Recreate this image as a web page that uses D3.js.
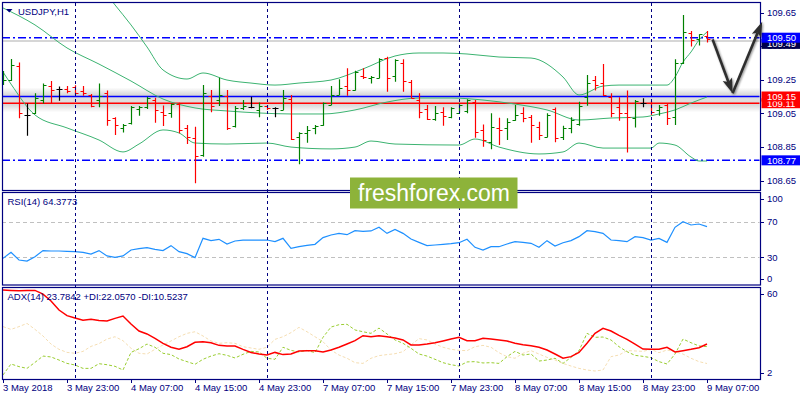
<!DOCTYPE html>
<html>
<head>
<meta charset="utf-8">
<script src="https://cdn.jsdelivr.net/npm/d3@7"></script>
<style>
  body { margin: 0; background: #fff; }
  svg { display: block; }
  text { font-family: "Liberation Sans", Arial, sans-serif; }
</style>
</head>
<body>
<svg id="chart"></svg>
<script>
// ---- data ----
const timeLabels = ['3 May 2018', '3 May 23:00', '4 May 07:00', '4 May 15:00', '4 May 23:00',
    '7 May 07:00', '7 May 15:00', '7 May 23:00', '8 May 07:00', '8 May 15:00', '8 May 23:00', '9 May 07:00'];
const daySeparators = [9, 33, 57, 81];   // bar index of first bar of a new day

const opens = [109.228,109.248,109.330,109.040,109.050,109.129,109.213,109.195,109.195,109.205,
    109.185,109.157,109.129,109.169,109.020,108.961,108.994,109.074,109.086,109.129,
    109.060,109.050,109.105,108.961,108.901,108.802,109.155,109.129,109.155,108.974,
    109.084,109.086,109.070,109.094,109.080,109.070,109.133,108.911,108.935,108.961,
    108.980,109.099,109.159,109.213,109.189,109.272,109.258,109.262,109.377,109.272,
    109.351,109.238,109.129,109.074,109.014,109.060,109.026,109.054,109.066,109.119,
    108.951,108.881,108.961,108.961,109.010,109.054,109.026,108.970,108.911,109.074,
    108.911,108.961,108.986,109.149,109.248,109.228,109.149,109.090,109.050,109.020,
    109.109,109.113,109.070,109.099,109.030,109.351,109.526,109.492,109.510];
const highs = [109.302,109.373,109.353,109.109,109.169,109.228,109.242,109.209,109.213,109.217,
    109.213,109.165,109.228,109.185,109.026,108.986,109.094,109.094,109.149,109.143,
    109.097,109.109,109.113,108.980,108.970,109.218,109.189,109.262,109.189,109.094,
    109.129,109.149,109.115,109.099,109.086,109.189,109.159,108.937,108.974,108.980,
    109.115,109.213,109.252,109.318,109.304,109.318,109.272,109.377,109.387,109.371,
    109.371,109.248,109.169,109.099,109.094,109.086,109.086,109.109,109.133,109.129,
    108.984,109.050,109.024,109.020,109.099,109.086,109.040,109.000,109.050,109.084,
    108.976,109.026,109.119,109.278,109.272,109.343,109.169,109.145,109.185,109.129,
    109.139,109.123,109.099,109.105,109.371,109.635,109.540,109.520,109.540];
const lows = [109.218,109.242,109.020,108.917,109.046,109.109,109.109,109.125,109.169,109.159,
    109.155,109.086,109.086,108.976,108.921,108.935,108.984,109.036,109.076,108.994,
    108.974,109.024,108.931,108.867,108.633,108.792,109.056,109.094,108.951,108.965,
    109.070,109.080,109.026,109.070,109.026,109.070,108.891,108.746,108.875,108.925,
    108.976,109.099,109.159,109.155,109.185,109.254,109.228,109.258,109.179,109.238,
    109.179,109.139,109.020,109.010,109.006,108.976,109.020,109.050,109.050,108.905,
    108.851,108.836,108.861,108.891,109.006,108.996,108.875,108.891,108.907,108.877,
    108.891,108.931,108.976,109.095,109.185,109.153,109.026,109.006,108.816,108.965,
    109.086,109.040,109.036,108.980,108.980,109.343,109.447,109.453,109.472];
const closes = [109.248,109.337,109.050,109.040,109.139,109.218,109.189,109.195,109.183,109.169,
    109.169,109.094,109.155,109.010,108.980,108.980,109.090,109.086,109.139,109.070,
    109.040,109.105,108.951,108.911,108.796,109.169,109.095,109.159,108.965,109.080,
    109.094,109.086,109.094,109.084,109.080,109.139,108.895,108.931,108.951,108.976,
    109.109,109.159,109.199,109.189,109.298,109.264,109.268,109.371,109.258,109.367,
    109.242,109.143,109.056,109.014,109.050,109.034,109.080,109.099,109.129,108.937,
    108.891,108.967,108.951,108.996,109.040,109.024,108.980,108.921,109.040,108.901,
    108.961,109.010,109.094,109.228,109.218,109.159,109.050,109.054,109.026,109.123,
    109.109,109.060,109.090,109.020,109.347,109.532,109.486,109.520,109.490];

// Bollinger bands, sampled at these bar indices
const bbUpperIdx = [0,4,8,12,14,16,18,20,23,25,28,31,34,37,41,45,49,52,55,58,62,66,70,72,75,77,79,83,84,85,86,87,88];
const bbUpper = [110.060,110.111,109.930,109.814,109.695,109.576,109.445,109.308,109.254,109.290,109.248,109.230,109.218,
    109.230,109.248,109.314,109.391,109.409,109.409,109.403,109.385,109.379,109.266,109.159,109.212,109.218,109.218,
    109.218,109.266,109.355,109.415,109.486,109.534];
const bbMiddleIdx = [0,4,8,12,16,20,24,28,32,36,40,44,48,52,56,60,64,68,72,76,80,82,84,86,88];
const bbMiddle = [109.677,109.576,109.439,109.343,109.242,109.135,109.082,109.064,109.052,109.046,109.046,109.070,
    109.117,109.141,109.141,109.129,109.105,109.070,109.010,109.022,109.028,109.046,109.070,109.111,109.147];
const bbLowerIdx = [0,1,4,8,12,15,17,20,22,24,28,33,36,41,44,46,49,57,59,62,67,70,72,75,81,82,84,86,87,88];
const bbLower = [109.296,109.224,109.040,108.963,108.891,108.820,108.867,108.951,108.933,108.873,108.867,108.873,
    108.849,108.838,108.849,108.885,108.867,108.861,108.897,108.849,108.808,108.820,108.873,108.843,108.843,
    108.873,108.861,108.790,108.766,108.766];

const rsi = [28.8,35.6,27.0,25.8,30.7,37.5,37.1,37.1,36.7,36.3,
    35.6,33.7,37.5,31.5,30.0,31.5,38.2,39.7,40.8,39.0,
    37.5,43.1,36.3,34.1,29.6,51.3,48.7,50.2,44.9,48.3,
    49.4,49.4,49.4,49.4,47.6,51.3,40.1,41.9,43.4,44.6,
    52.1,55.1,56.9,55.4,59.9,59.2,59.6,63.7,56.9,61.4,
    56.9,50.6,46.8,43.1,43.8,44.6,45.3,46.4,50.2,41.2,
    38.2,41.9,41.9,44.9,47.6,46.8,45.7,41.2,48.7,42.7,
    46.4,48.7,53.2,59.9,58.8,56.9,49.4,48.7,47.6,53.2,
    52.1,49.4,51.3,46.8,63.7,70.0,66.3,67.4,64.4];

const adx = [60.7,60.4,60.2,60.4,60.4,57.9,53.2,47.0,43.2,41.6,
    40.0,40.7,39.8,39.5,41.3,42.9,37.5,32.7,30.7,27.7,
    24.3,21.6,20.2,22.0,25.0,25.4,24.7,22.9,22.5,22.5,
    20.2,18.1,17.0,16.3,18.1,16.6,17.0,19.1,19.3,19.3,
    18.4,19.7,21.6,23.8,26.1,29.5,28.8,29.5,28.8,27.9,
    26.6,23.2,23.2,23.8,24.7,25.9,27.2,28.4,26.1,26.1,
    27.7,27.2,26.6,25.9,24.3,23.4,22.7,21.6,19.7,17.0,
    14.1,15.2,18.1,24.3,31.1,34.5,32.7,29.7,27.0,23.8,
    20.4,20.2,20.2,21.6,18.4,19.3,20.2,21.3,23.8];
const plusDI = [2.7,10.2,8.4,7.2,11.3,15.6,15.0,12.9,10.6,9.5,
    7.2,7.2,10.4,9.7,8.6,6.1,18.1,20.6,23.8,21.6,
    17.5,16.6,13.6,11.8,10.0,13.4,15.6,17.2,16.1,14.3,
    16.8,18.8,18.4,14.1,13.4,21.6,19.5,18.4,19.5,17.9,
    28.4,35.4,37.0,37.3,33.4,32.2,31.1,34.7,30.7,26.6,
    24.3,20.9,17.0,15.6,13.4,11.1,9.7,8.8,11.6,11.8,
    10.9,11.1,10.6,15.2,18.8,16.3,17.0,12.2,12.9,14.1,
    10.6,14.7,19.3,31.1,28.4,28.6,26.6,22.0,18.6,16.1,
    15.4,14.5,11.8,10.2,17.0,27.2,24.7,22.5,22.06];
const minusDI = [35.7,33.8,35.7,37.9,33.8,29.3,23.8,20.2,18.1,17.5,
    18.8,22.2,24.1,27.2,28.8,26.1,20.9,17.5,17.0,20.2,
    23.2,25.9,28.8,31.1,32.2,29.3,25.9,24.3,24.7,24.3,
    22.0,21.1,20.2,21.6,27.0,28.8,31.6,35.2,32.2,28.8,
    25.4,19.7,16.3,14.1,11.1,10.6,14.1,15.9,16.6,17.2,
    18.6,23.2,27.5,26.6,23.8,21.6,20.2,19.5,19.3,22.0,
    22.9,21.6,17.9,15.2,14.1,17.5,19.3,17.0,14.7,12.9,
    10.6,8.8,7.2,6.1,5.4,6.1,15.2,16.3,19.3,19.1,
    18.8,20.2,17.9,19.7,18.6,17.0,14.1,11.8,10.52];

const priceTicks = [109.65, 109.45, 109.25, 109.05, 108.85, 108.65];
const rsiTicks = [100, 70, 30, 0];
const rsiLevels = [70, 30];
const adxTicks = [60, 2];

const levelHigh = 109.50, levelSupport = 109.15, levelRed = 109.11, levelLow = 108.77, bidPrice = 109.49;
// arrows: [bar index, price] from -> to
const arrowDown = [[88.7, 109.490], [91.2, 109.169]];
const arrowUp = [[91.2, 109.169], [94.9, 109.595]];

const symbolTitle = 'USDJPY,H1';
const rsiTitle = 'RSI(14) 64.3773';
const adxTitle = 'ADX(14) 23.7842 +DI:22.0570 -DI:10.5237';

// ---- layout ----
const W = 800, H = 400;
const left = 2, right = 760;
const main = {top: 2, bottom: 190};
const rsiP = {top: 192, bottom: 284.5};
const adxP = {top: 287, bottom: 379};
const navy = '#000080';

const svg = d3.select('#chart').attr('width', W).attr('height', H);
svg.append('rect').attr('width', W).attr('height', H).attr('fill', '#fff');

const x = d3.scaleLinear().domain([0, 88]).range([3, 707]);
const yP = d3.scaleLinear().domain([108.65, 109.65]).range([180.5, 12.5]);
const yR = d3.scaleLinear().domain([0, 100]).range([284, 195]);
const yA = d3.scaleLinear().domain([2, 60]).range([376, 291]);

const defs = svg.append('defs');
[['clipMain', main], ['clipRsi', rsiP], ['clipAdx', adxP]].forEach(([id, p]) => {
    defs.append('clipPath').attr('id', id).append('rect')
        .attr('x', left + 0.5).attr('y', p.top + 0.5)
        .attr('width', right - left - 1).attr('height', p.bottom - p.top - 1);
});
const grad = defs.append('linearGradient').attr('id', 'shade')
    .attr('x1', 0).attr('x2', 0).attr('y1', 0).attr('y2', 1);
[[0, 0], [0.3, 0.55], [0.5, 0.45], [0.7, 0.55], [1, 0]].forEach(([o, a]) => {
    grad.append('stop').attr('offset', o).attr('stop-color', '#b8b8b8').attr('stop-opacity', a);
});
const blur = defs.append('filter').attr('id', 'shadow').attr('x', '-50%').attr('y', '-50%')
    .attr('width', '200%').attr('height', '200%');
blur.append('feGaussianBlur').attr('in', 'SourceAlpha').attr('stdDeviation', 1.2).attr('result', 'b');
blur.append('feOffset').attr('in', 'b').attr('dx', 1).attr('dy', 1).attr('result', 'o');
blur.append('feComponentTransfer').attr('in', 'o').attr('result', 'f')
    .append('feFuncA').attr('type', 'linear').attr('slope', 0.45);
const merge = blur.append('feMerge');
merge.append('feMergeNode').attr('in', 'f');
merge.append('feMergeNode').attr('in', 'SourceGraphic');

// ---- main panel ----
const gMain = svg.append('g').attr('clip-path', 'url(#clipMain)');

gMain.append('rect')
    .attr('x', left).attr('width', right - left)
    .attr('y', yP(levelSupport) - 9)
    .attr('height', yP(levelRed) - yP(levelSupport) + 18)
    .attr('fill', 'url(#shade)');

const hline = (g, y, color, dash, w) => g.append('line')
    .attr('x1', left).attr('x2', right).attr('y1', y).attr('y2', y)
    .attr('stroke', color).attr('stroke-width', w || 1)
    .attr('stroke-dasharray', dash || null);

hline(gMain, yP(bidPrice) + 1.5, '#c8c8c8', null, 1.5);
hline(gMain, yP(levelHigh), '#0000ff', '8,3,2,3', 1.5);
hline(gMain, yP(levelLow), '#0000ff', '8,3,2,3', 1.5);
hline(gMain, yP(levelSupport), '#0000ff', null, 1.5);
hline(gMain, yP(levelRed), '#ff0000', null, 1.5);

// bollinger bands
const bandLine = d3.line().x(d => x(d[0])).y(d => yP(d[1])).curve(d3.curveMonotoneX);
[[bbUpperIdx, bbUpper], [bbMiddleIdx, bbMiddle], [bbLowerIdx, bbLower]].forEach(([idx, vals]) => {
    gMain.append('path')
        .attr('d', bandLine(idx.map((k, j) => [k, vals[j]])))
        .attr('fill', 'none').attr('stroke', '#3cb371').attr('stroke-width', 1);
});

// OHLC bars
const bars = opens.map((o, i) => ({i: i, o: o, h: highs[i], l: lows[i], c: closes[i]}));
const barColor = d => d.c > d.o ? '#008000' : (d.c < d.o ? '#ff0000' : '#000000');
gMain.append('g').selectAll('path')
    .data(bars)
    .join('path')
    .attr('d', d => {
        const cx = x(d.i) + 0.5;
        const yo = Math.round(yP(d.o)) + 0.5, yc = Math.round(yP(d.c)) + 0.5;
        return `M${cx},${yP(d.h)}V${yP(d.l)}M${cx - 3},${yo}H${cx}M${cx},${yc}H${cx + 3}`;
    })
    .attr('fill', 'none')
    .attr('stroke', barColor)
    .attr('stroke-width', 1.2);

// ---- RSI panel ----
const gRsi = svg.append('g').attr('clip-path', 'url(#clipRsi)');
rsiLevels.forEach(v => hline(gRsi, Math.round(yR(v)) + 0.5, '#c0c0c0', '4,3', 1));
gRsi.append('path')
    .attr('d', d3.line().x((d, i) => x(i)).y(d => yR(d))(rsi))
    .attr('fill', 'none').attr('stroke', '#1e90ff').attr('stroke-width', 1.2);

// ---- ADX panel ----
const gAdx = svg.append('g').attr('clip-path', 'url(#clipAdx)');
const adxLine = d3.line().x((d, i) => x(i)).y(d => yA(d));
gAdx.append('path').attr('d', adxLine(minusDI))
    .attr('fill', 'none').attr('stroke', '#f5deb3').attr('stroke-width', 1).attr('stroke-dasharray', '3,2');
gAdx.append('path').attr('d', adxLine(plusDI))
    .attr('fill', 'none').attr('stroke', '#9acd32').attr('stroke-width', 1).attr('stroke-dasharray', '3,2');
gAdx.append('path').attr('d', adxLine(adx))
    .attr('fill', 'none').attr('stroke', '#ff0000').attr('stroke-width', 1.5);

// ---- day separators ----
svg.append('g').selectAll('line')
    .data(daySeparators)
    .join('line')
    .attr('x1', d => x(d) + 0.5).attr('x2', d => x(d) + 0.5)
    .attr('y1', main.top + 1).attr('y2', adxP.bottom)
    .attr('stroke', navy).attr('stroke-width', 1).attr('stroke-dasharray', '3,3');

// ---- frames ----
[main, rsiP, adxP].forEach(p => {
    svg.append('rect')
        .attr('x', left + 0.5).attr('y', p.top + 0.5)
        .attr('width', right - left).attr('height', p.bottom - p.top)
        .attr('fill', 'none').attr('stroke', navy).attr('stroke-width', 1.2);
});

// ---- right axes ----
function rightAxis(scale, ticks, lo, hi, fmt) {
    const g = svg.append('g');
    ticks.forEach(v => {
        const yy = Math.max(lo, Math.min(hi, scale(v)));
        g.append('line').attr('x1', right).attr('x2', right + 4)
            .attr('y1', Math.round(yy) + 0.5).attr('y2', Math.round(yy) + 0.5)
            .attr('stroke', navy);
        g.append('text').attr('x', right + 7).attr('y', yy + 3.2)
            .attr('font-size', 9.5).attr('fill', navy).text(fmt(v));
    });
}
rightAxis(yP, priceTicks, 0, 400, v => v.toFixed(2));
rightAxis(yR, rsiTicks, 199, 279, v => String(v));
rightAxis(yA, adxTicks, 294, 373, v => String(v));

// price boxes
function priceBox(price, fill, yOff) {
    const yy = yP(price) + (yOff || 0);
    svg.append('rect').attr('x', right + 1.5).attr('y', yy - 5).attr('width', W - right - 1.5).attr('height', 10)
        .attr('fill', fill);
    svg.append('text').attr('x', right + 7).attr('y', yy + 3.5)
        .attr('font-size', 9.5).attr('fill', '#fff').text(price.toFixed(2));
}
priceBox(bidPrice, '#00004a', 4.5);
priceBox(levelHigh, '#0000ff');
priceBox(levelRed, '#ff0000');
priceBox(levelSupport, '#ff0000');
priceBox(levelLow, '#0000ff');

// ---- bottom time axis ----
const gTime = svg.append('g');
timeLabels.forEach((t, k) => {
    const xx = x(k * 8);
    gTime.append('line').attr('x1', xx + 0.5).attr('x2', xx + 0.5)
        .attr('y1', adxP.bottom).attr('y2', adxP.bottom + 4).attr('stroke', navy);
    gTime.append('text').attr('x', xx).attr('y', 391)
        .attr('font-size', 9.5).attr('fill', navy).text(t);
});

// ---- titles ----
svg.append('path').attr('d', 'M6,9L12.5,9L9.25,12.6Z').attr('fill', navy);
svg.append('text').attr('x', 18).attr('y', 14.5).attr('font-size', 9.5).attr('fill', navy).text(symbolTitle);
svg.append('text').attr('x', 7.5).attr('y', 205).attr('font-size', 9.5).attr('fill', navy).text(rsiTitle);
svg.append('text').attr('x', 7.5).attr('y', 300).attr('font-size', 9.5).attr('fill', navy).text(adxTitle);

// ---- arrows ----
function arrow(seg) {
    const x0 = x(seg[0][0]), y0 = yP(seg[0][1]), x1 = x(seg[1][0]), y1 = yP(seg[1][1]);
    const len = Math.hypot(x1 - x0, y1 - y0), ux = (x1 - x0) / len, uy = (y1 - y0) / len;
    const L = 15, w = 5;
    const bx = x1 - ux * L, by = y1 - uy * L;
    const g = svg.append('g').attr('filter', 'url(#shadow)');
    g.append('line').attr('x1', x0).attr('y1', y0).attr('x2', bx + ux * 3).attr('y2', by + uy * 3)
        .attr('stroke', '#2e2e2e').attr('stroke-width', 2.6);
    g.append('path')
        .attr('d', `M${x1},${y1}L${bx - uy * w},${by + ux * w}L${bx + ux * 3},${by + uy * 3}L${bx + uy * w},${by - ux * w}Z`)
        .attr('fill', '#2e2e2e');
}
arrow(arrowDown);
arrow(arrowUp);

// ---- watermark ----
svg.append('rect').attr('x', 350).attr('y', 177.5).attr('width', 167.5).attr('height', 31)
    .attr('fill', '#8db33a');
svg.append('text').attr('x', 358).attr('y', 201)
    .attr('font-family', '"Open Sans", "Noto Sans", sans-serif')
    .attr('font-size', 23).attr('fill', '#fff')
    .attr('textLength', 152).attr('lengthAdjust', 'spacingAndGlyphs')
    .text('freshforex.com');
</script>
</body>
</html>
